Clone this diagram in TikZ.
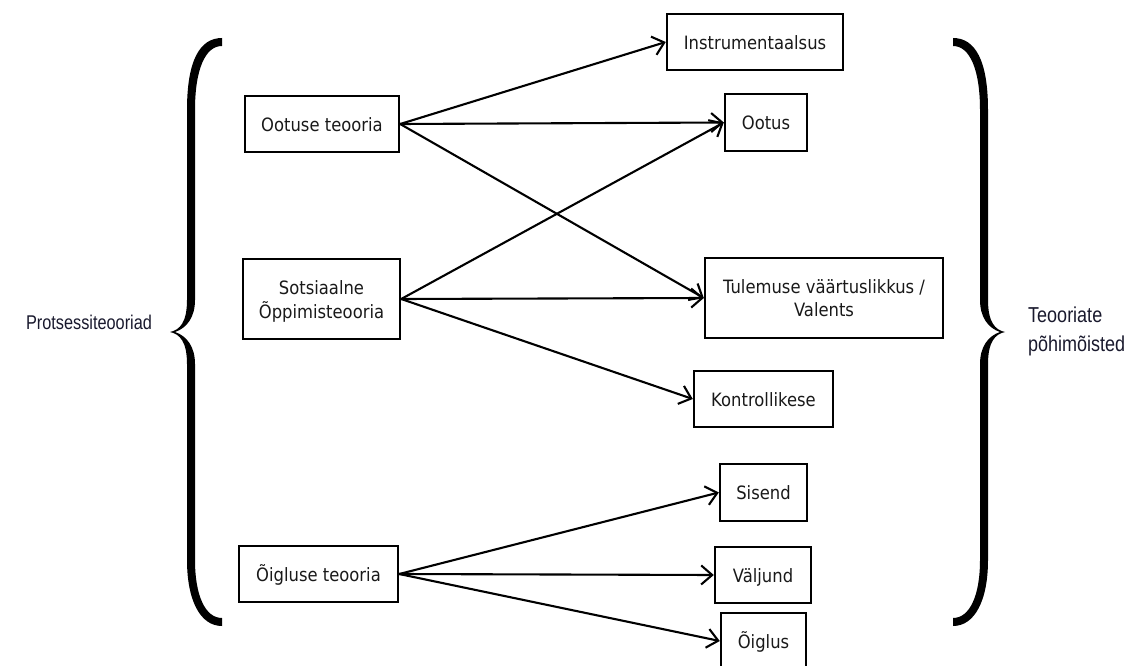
\documentclass[tikz,border=0pt]{standalone}
\usepackage{fontspec}
\usepackage{graphicx}
\setmainfont{DejaVu Sans}
\newfontfamily\labelfont{Liberation Sans}
\usetikzlibrary{arrows.meta}
\definecolor{boxtext}{RGB}{25,25,25}
\definecolor{sidetext}{RGB}{25,25,45}
% box captions are set slightly taller than wide, and sit a little low
\newcommand{\boxtxt}[1]{\raisebox{0pt}[\height][\dimexpr\depth-5pt\relax]{%
  \scalebox{1}[1.12]{\begin{tabular}{@{}c@{}}#1\end{tabular}}}}
\tikzset{
  concept/.style={draw=black, line width=2.4pt, inner sep=0pt, align=center,
    text=boxtext, font=\fontsize{16.4}{21}\selectfont},
  link/.style={line width=2.1pt, -{Straight Barb[length=11pt,width=19pt,line width=2.1pt]}},
  bigbrace/.pic={
    \fill (-31,38) .. controls (-9,38) and (4,60) .. (4,110) -- (4,300)
      .. controls (4,322) and (11,330) .. (21,332)
      .. controls (11,334) and (4,342) .. (4,364) -- (4,560)
      .. controls (4,600) and (-9,626) .. (-31,626) -- (-31,618)
      .. controls (-14,618) and (-4,595) .. (-4,560) -- (-4,364)
      .. controls (-4,347) and (4,336) .. (16,332)
      .. controls (4,328) and (-4,317) .. (-4,300) -- (-4,110)
      .. controls (-4,70) and (-14,46) .. (-31,46) -- cycle;
  }
}
\begin{document}
\begin{tikzpicture}[x=1pt, y=-1pt]
\useasboundingbox (0,0) rectangle (1136,666);

% theories on the left
\node[concept, minimum width=154pt, minimum height=56pt] (ot) at (322,124) {\boxtxt{Ootuse teooria}};
\node[concept, minimum width=157pt, minimum height=80pt] (so) at (321.5,299) {\boxtxt{Sotsiaalne\\Õppimisteooria}};
\node[concept, minimum width=159pt, minimum height=56pt] (oi) at (318.5,574) {\boxtxt{Õigluse teooria}};

% key concepts on the right
\node[concept, minimum width=176pt, minimum height=56pt] (ins) at (755,42) {\boxtxt{Instrumentaalsus}};
\node[concept, minimum width=82pt, minimum height=57pt] (oo) at (766,122.5) {\boxtxt{Ootus}};
\node[concept, minimum width=238pt, minimum height=80pt] (tu) at (824,298) {\boxtxt{Tulemuse väärtuslikkus /\\Valents}};
\node[concept, minimum width=139pt, minimum height=56pt] (ko) at (763.5,399) {\boxtxt{Kontrollikese}};
\node[concept, minimum width=87pt, minimum height=57pt] (si) at (763.5,492.5) {\boxtxt{Sisend}};
\node[concept, minimum width=96pt, minimum height=56pt] (va) at (763,575) {\boxtxt{Väljund}};
\node[concept, minimum width=85pt, minimum height=56pt] (og) at (763.5,641) {\boxtxt{Õiglus}};

% connections
\draw[link] (ot.east) -- (ins.west);
\draw[link] (ot.east) -- (oo.west);
\draw[link] (ot.east) -- (tu.west);
\draw[link] (so.east) -- (oo.west);
\draw[link] (so.east) -- (tu.west);
\draw[link] (so.east) -- (ko.west);
\draw[link] (oi.east) -- (si.west);
\draw[link] (oi.east) -- (va.west);
\draw[link] (oi.east) -- (og.west);

% braces
\pic at (191,0) [xscale=-1] {bigbrace};
\pic at (984,0) {bigbrace};

% group labels
\node[text=sidetext, inner sep=0pt] (proc) at (89,322)
  {\scalebox{1}[1.22]{\labelfont\fontsize{16.3}{20}\selectfont Protsessiteooriad}};
\node[text=sidetext, inner sep=0pt, anchor=west] (core) at (1028,331)
  {\scalebox{1}[1.2]{\labelfont\fontsize{18}{24}\selectfont
   \begin{tabular}{@{}l@{}}Teooriate\\põhimõisted\end{tabular}}};
\end{tikzpicture}
\end{document}
